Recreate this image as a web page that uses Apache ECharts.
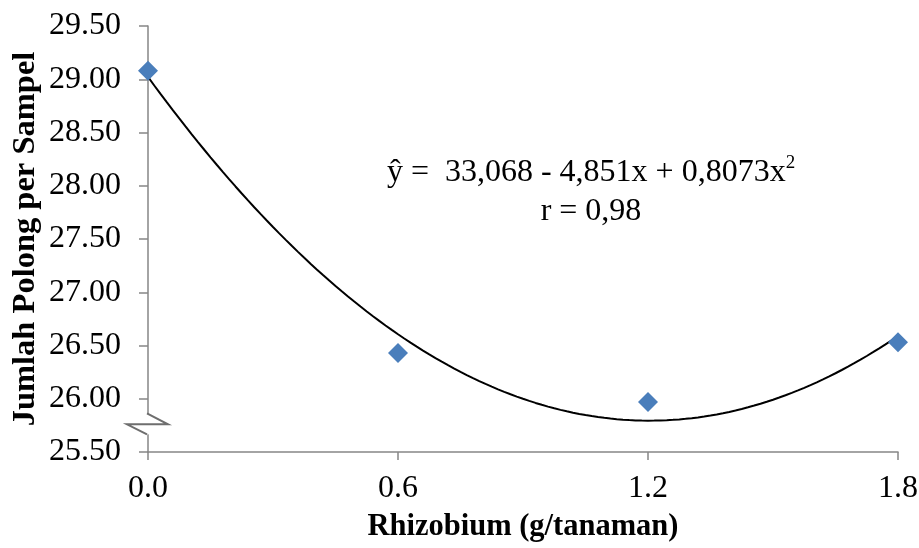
<!DOCTYPE html>
<html>
<head>
<meta charset="utf-8">
<script src="https://cdn.jsdelivr.net/npm/echarts@6/dist/echarts.min.js"></script>
<style>
html,body{margin:0;padding:0;background:#fff;}
#chart{width:919px;height:548px;}
</style>
</head>
<body>
<div id="chart"></div>
<script>
// Data
const rhizobium = [0.0, 0.6, 1.2, 1.8];
const jumlahPolong = [29.08, 26.43, 25.97, 26.53];
const xTicks = [0.0, 0.6, 1.2, 1.8];
const yTicks = [25.5, 26.0, 26.5, 27.0, 27.5, 28.0, 28.5, 29.0, 29.5];
const equationText = 'ŷ =  33,068 - 4,851x + 0,8073x';
const rText = 'r = 0,98';

// Quadratic least-squares trendline fitted to the data (as a spreadsheet trendline does)
function fitQuadratic(xs, ys) {
  let S = [0,0,0,0,0], T = [0,0,0];
  for (let i = 0; i < xs.length; i++) {
    let p = 1;
    for (let k = 0; k < 5; k++) { S[k] += p; if (k < 3) T[k] += p * ys[i]; p *= xs[i]; }
  }
  const A = [[S[0],S[1],S[2],T[0]],[S[1],S[2],S[3],T[1]],[S[2],S[3],S[4],T[2]]];
  for (let c = 0; c < 3; c++) {
    for (let r = c + 1; r < 3; r++) {
      const f = A[r][c] / A[c][c];
      for (let k = c; k < 4; k++) A[r][k] -= f * A[c][k];
    }
  }
  const b = [0,0,0];
  for (let r = 2; r >= 0; r--) {
    let s = A[r][3];
    for (let k = r + 1; k < 3; k++) s -= A[r][k] * b[k];
    b[r] = s / A[r][r];
  }
  return b;
}
const coef = fitQuadratic(rhizobium, jumlahPolong);
const trend = [];
const xMin = Math.min(...rhizobium), xMax = Math.max(...rhizobium);
for (let i = 0; i <= 120; i++) {
  const x = xMin + (xMax - xMin) * i / 120;
  trend.push([x, coef[0] + coef[1] * x + coef[2] * x * x]);
}

const FONT = '"Liberation Serif", "Times New Roman", serif';
const AXIS_COLOR = '#868686';

const chart = echarts.init(document.getElementById('chart'), null, {renderer: 'canvas'});
const option = {
  backgroundColor: '#ffffff',
  animation: false,
  grid: {left: 148, right: 21, top: 26, bottom: 96, containLabel: false, outerBoundsMode: 'none'},
  xAxis: {
    type: 'value',
    min: xTicks[0], max: xTicks[xTicks.length - 1], interval: 0.6,
    name: 'Rhizobium (g/tanaman)',
    nameLocation: 'middle', nameGap: 60, nameMoveOverlap: false,
    nameTextStyle: {fontFamily: FONT, fontSize: 30.5, fontWeight: 'bold', color: '#000'},
    axisLine: {show: true, onZero: false, lineStyle: {color: AXIS_COLOR, width: 1.5}},
    axisTick: {show: true, inside: false, length: 8, lineStyle: {color: AXIS_COLOR, width: 1.5}},
    axisLabel: {fontFamily: FONT, fontSize: 32, color: '#000', margin: 21, formatter: v => v.toFixed(1)},
    splitLine: {show: false}
  },
  yAxis: {
    type: 'value',
    min: yTicks[0], max: yTicks[yTicks.length - 1], interval: 0.5,
    name: 'Jumlah Polong per Sampel',
    nameLocation: 'middle', nameGap: 106, nameMoveOverlap: false,
    nameTextStyle: {fontFamily: FONT, fontSize: 32.5, fontWeight: 'bold', color: '#000'},
    axisLine: {show: true, onZero: false, lineStyle: {color: AXIS_COLOR, width: 1.5}},
    axisTick: {show: true, inside: false, length: 9, lineStyle: {color: AXIS_COLOR, width: 1.5}},
    axisLabel: {fontFamily: FONT, fontSize: 32, color: '#000', margin: 27, formatter: v => v.toFixed(2)},
    splitLine: {show: false}
  },
  series: [
    {
      type: 'line', data: trend, showSymbol: false, smooth: false,
      lineStyle: {color: '#000', width: 2}, z: 2, silent: true
    },
    {
      type: 'scatter', data: rhizobium.map((x, i) => [x, jumlahPolong[i]]),
      symbol: 'diamond', symbolSize: 20,
      itemStyle: {color: '#4A7EBB', opacity: 1}, z: 3
    }
  ]
};
chart.setOption(option);

// Axis break mark and equation annotation
const bp = chart.convertToPixel({gridIndex: 0}, [0, 25.76]);
chart.setOption({
  graphic: [
    {
      type: 'rect', shape: {x: bp[0] - 12, y: bp[1] - 10, width: 24, height: 20},
      style: {fill: '#fff'}, z: 10
    },
    {
      type: 'polyline',
      shape: {points: [[bp[0] - 1, bp[1] - 11], [bp[0] + 20, bp[1]], [bp[0] - 21, bp[1]], [bp[0] - 1, bp[1] + 10]]},
      style: {stroke: '#6e6e6e', lineWidth: 2, fill: null}, z: 11
    },
    {
      type: 'text', x: 591, y: 154, z: 12,
      style: {
        text: '{m|' + equationText + '}{s|2}',
        align: 'center', verticalAlign: 'top',
        rich: {
          m: {fontFamily: FONT, fontSize: 32, fill: '#000', verticalAlign: 'bottom'},
          s: {fontFamily: FONT, fontSize: 19, fill: '#000', verticalAlign: 'top', padding: [0,0,16,0]}
        }
      }
    },
    {
      type: 'text', x: 591, y: 196, z: 12,
      style: {text: rText, fontFamily: FONT, fontSize: 32, fill: '#000', align: 'center', verticalAlign: 'top'}
    }
  ]
});
</script>
</body>
</html>
